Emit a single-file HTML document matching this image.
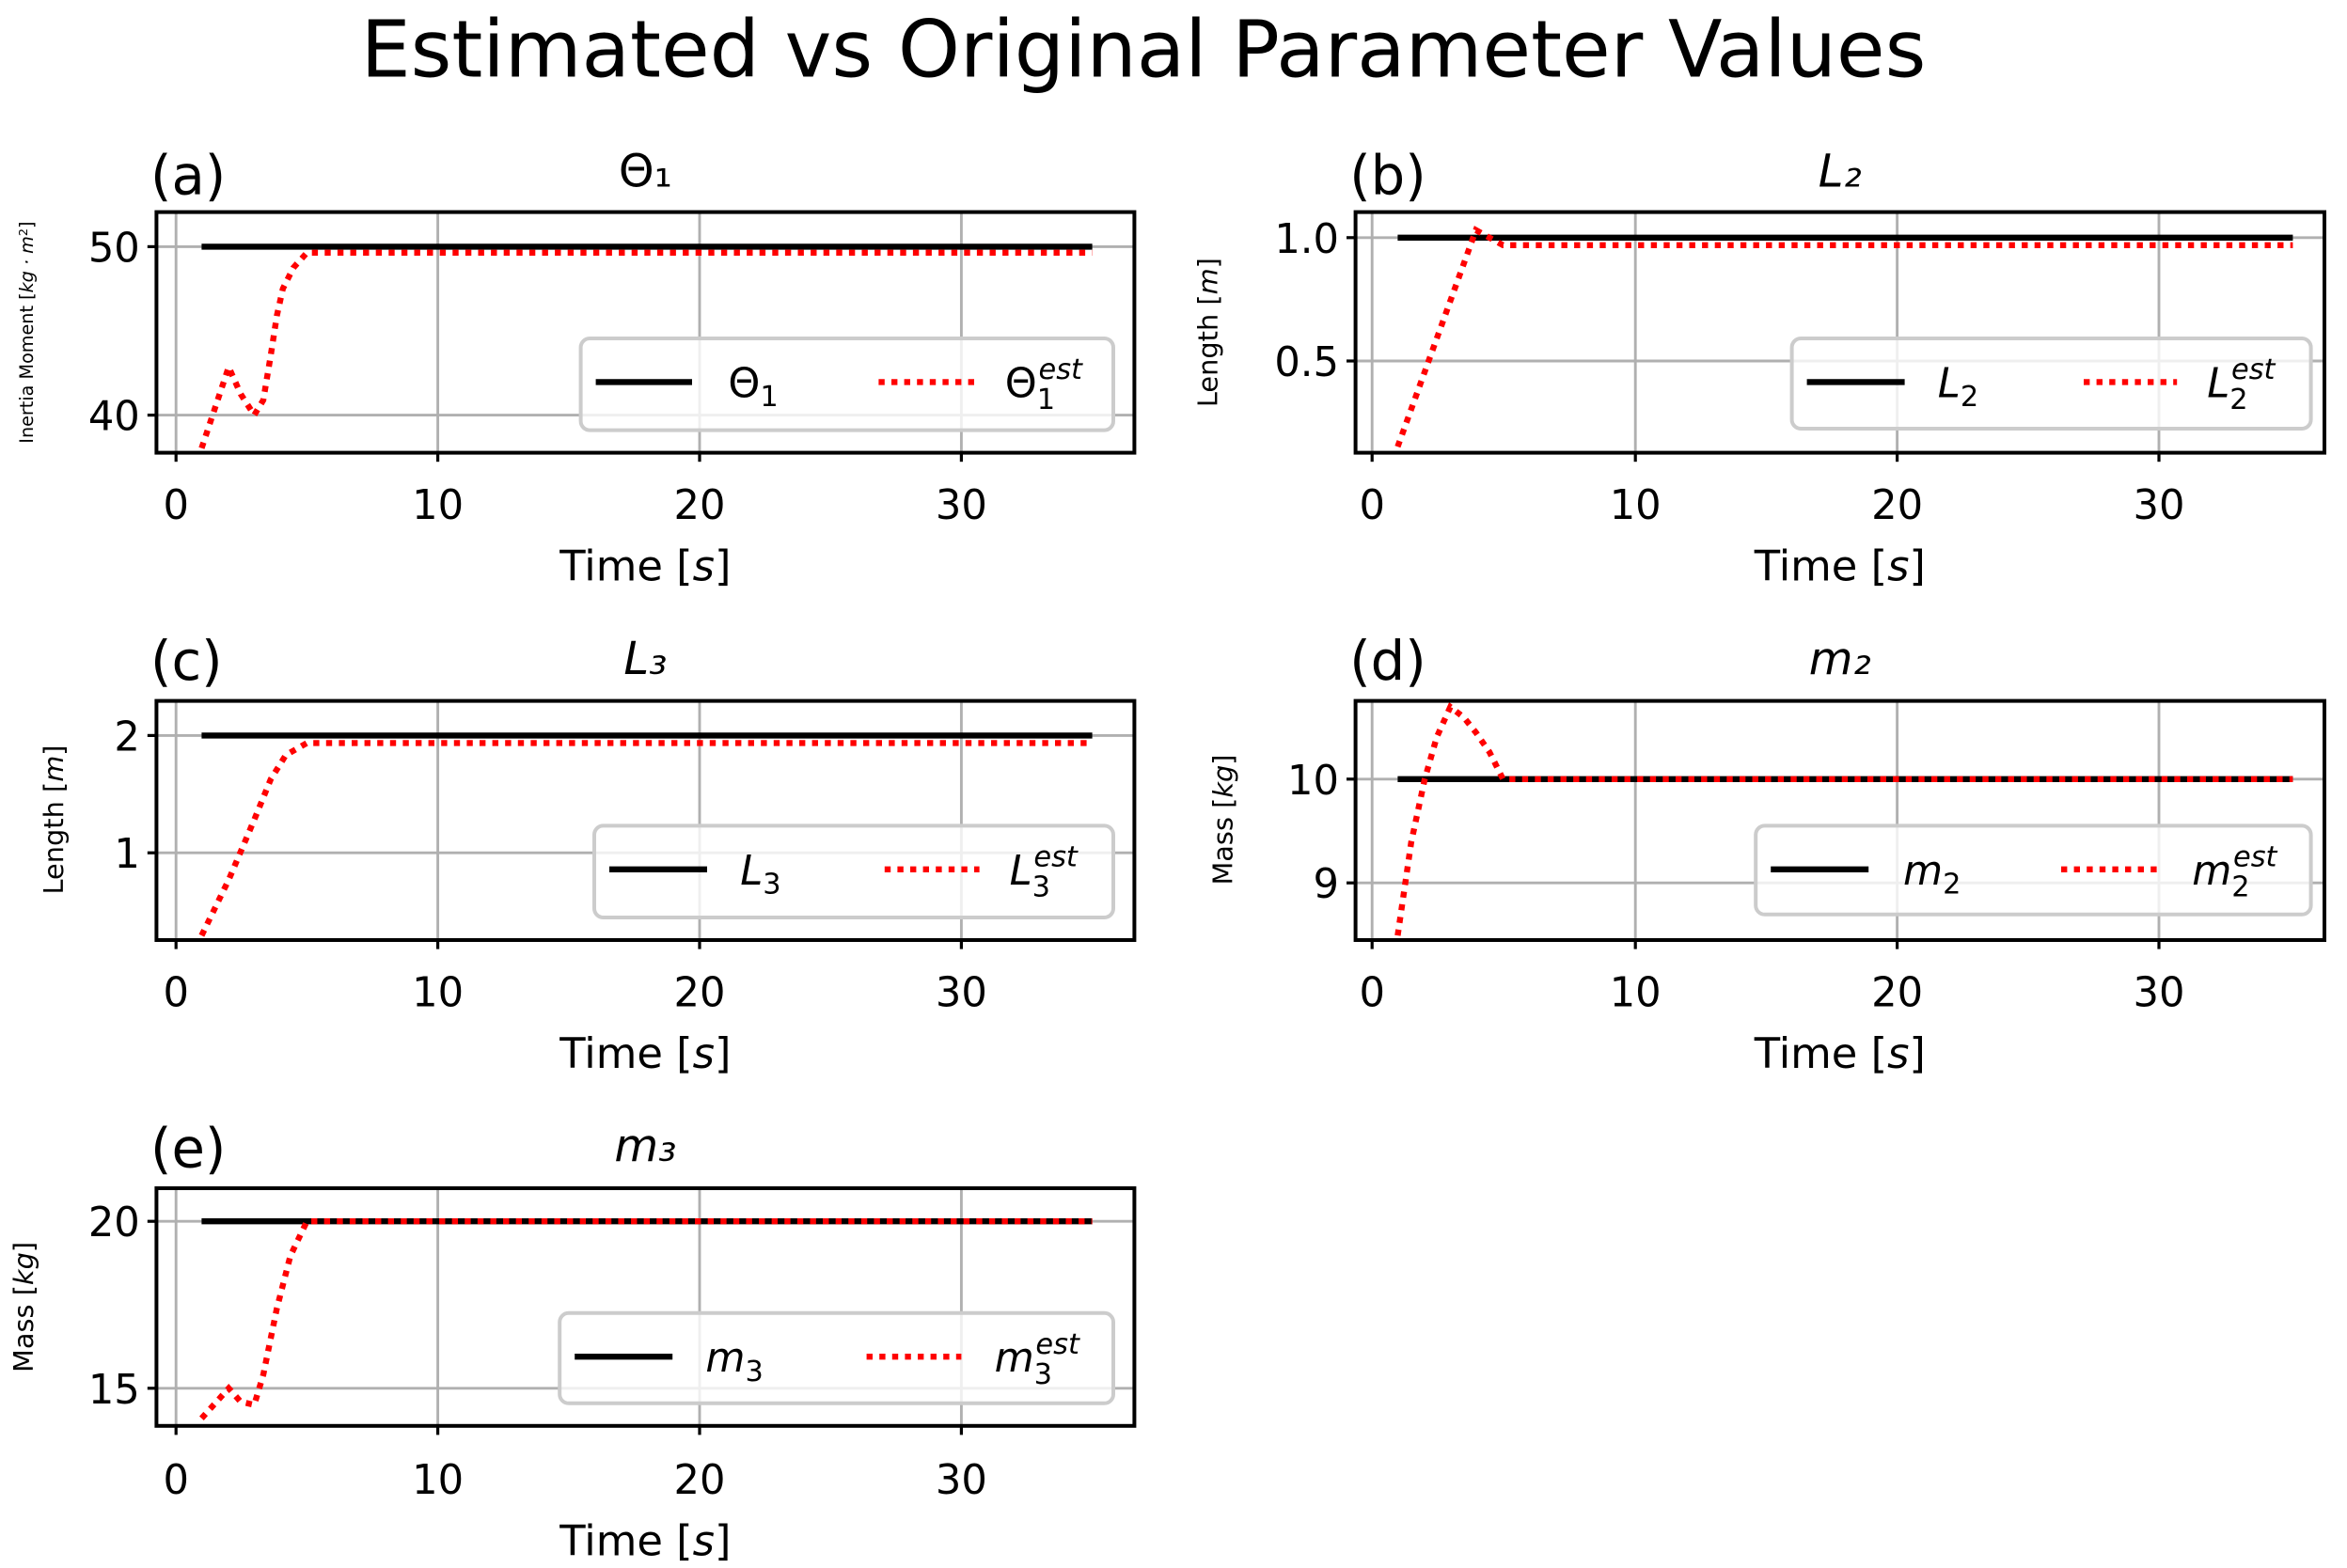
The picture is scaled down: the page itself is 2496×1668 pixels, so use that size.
<!DOCTYPE html>
<html><head><meta charset="utf-8"><style>
html,body{margin:0;padding:0;background:#fff;}
svg{display:block;}
text{font-family:"DejaVu Sans","Liberation Sans",sans-serif;fill:#000;}
.tk{font-size:27px;}
.ax{font-size:28px;}
.grid{stroke:#b0b0b0;stroke-width:1.8;}
.box{fill:none;stroke:#000;stroke-width:2.5;}
.blk{fill:none;stroke:#000;stroke-width:4;}
.red{fill:none;stroke:#ff0000;stroke-width:4;stroke-dasharray:4 4.5;}
.leg{fill:#fff;fill-opacity:0.8;stroke:#ccc;stroke-width:2.5;}
.it{font-style:italic;}
</style></head><body>
<svg width="2496" height="1668" viewBox="0 0 1560 1042.5" xmlns="http://www.w3.org/2000/svg">
<rect width="1560" height="1042.5" fill="#fff"/>
<text x="760" y="51" font-size="52.5" text-anchor="middle">Estimated vs Original Parameter Values</text>

<!-- Panel a -->
<g>
<line class="grid" x1="117" y1="141" x2="117" y2="301"/><line class="grid" x1="291" y1="141" x2="291" y2="301"/><line class="grid" x1="465" y1="141" x2="465" y2="301"/><line class="grid" x1="639" y1="141" x2="639" y2="301"/>
<line class="grid" x1="104" y1="164" x2="754" y2="164"/><line class="grid" x1="104" y1="276" x2="754" y2="276"/>
<line class="blk" x1="134" y1="164" x2="726" y2="164"/>
<polyline class="red" points="134,298 152,244 160,262 169,276 175,266 180,236 184,210 188,192 195,178 204,168 726,168"/>
<rect class="box" x="104" y="141" width="650" height="160"/>
<g stroke="#000" stroke-width="2"><line x1="117" y1="301" x2="117" y2="307"/><line x1="291" y1="301" x2="291" y2="307"/><line x1="465" y1="301" x2="465" y2="307"/><line x1="639" y1="301" x2="639" y2="307"/><line x1="98" y1="164" x2="104" y2="164"/><line x1="98" y1="276" x2="104" y2="276"/></g>
<text class="tk" x="117" y="345" text-anchor="middle">0</text><text class="tk" x="291" y="345" text-anchor="middle">10</text><text class="tk" x="465" y="345" text-anchor="middle">20</text><text class="tk" x="639" y="345" text-anchor="middle">30</text>
<text class="tk" x="93" y="174" text-anchor="end">50</text><text class="tk" x="93" y="286" text-anchor="end">40</text>
<text class="ax" x="429" y="386" text-anchor="middle">Time [<tspan class="it">s</tspan>]</text>
<text x="22" y="221" font-size="12" text-anchor="middle" transform="rotate(-90 22 221)">Inertia Moment [<tspan class="it">kg · m</tspan><tspan font-size="8" dy="-4">2</tspan><tspan dy="4">]</tspan></text>
<text x="100" y="129" font-size="36">(a)</text>
<text x="429" y="124" font-size="30" text-anchor="middle">Θ₁</text>
<rect class="leg" x="386" y="225" width="354" height="61" rx="6"/>
<line class="blk" x1="396" y1="254" x2="460" y2="254"/><text x="484" y="264" font-size="27">Θ<tspan font-size="19" dy="6">1</tspan></text>
<line class="red" x1="584" y1="254" x2="648" y2="254"/><text x="668" y="264" font-size="27">Θ<tspan font-size="19" dy="8">1</tspan><tspan font-size="19" class="it" dx="-11" dy="-20">est</tspan></text>
</g>

<!-- Panel b -->
<g>
<line class="grid" x1="912" y1="141" x2="912" y2="301"/><line class="grid" x1="1087" y1="141" x2="1087" y2="301"/><line class="grid" x1="1261" y1="141" x2="1261" y2="301"/><line class="grid" x1="1435" y1="141" x2="1435" y2="301"/>
<line class="grid" x1="901" y1="158" x2="1545" y2="158"/><line class="grid" x1="901" y1="240" x2="1545" y2="240"/>
<line class="blk" x1="929" y1="158" x2="1524" y2="158"/>
<polyline class="red" points="929,297 981,153 990,158 999,163 1524,163"/>
<rect class="box" x="901" y="141" width="644" height="160"/>
<g stroke="#000" stroke-width="2"><line x1="912" y1="301" x2="912" y2="307"/><line x1="1087" y1="301" x2="1087" y2="307"/><line x1="1261" y1="301" x2="1261" y2="307"/><line x1="1435" y1="301" x2="1435" y2="307"/><line x1="895" y1="158" x2="901" y2="158"/><line x1="895" y1="240" x2="901" y2="240"/></g>
<text class="tk" x="912" y="345" text-anchor="middle">0</text><text class="tk" x="1087" y="345" text-anchor="middle">10</text><text class="tk" x="1261" y="345" text-anchor="middle">20</text><text class="tk" x="1435" y="345" text-anchor="middle">30</text>
<text class="tk" x="890" y="168" text-anchor="end">1.0</text><text class="tk" x="890" y="250" text-anchor="end">0.5</text>
<text class="ax" x="1223" y="386" text-anchor="middle">Time [<tspan class="it">s</tspan>]</text>
<text x="809" y="221" font-size="18" text-anchor="middle" transform="rotate(-90 809 221)">Length [<tspan class="it">m</tspan>]</text>
<text x="897" y="129" font-size="36">(b)</text>
<text x="1223" y="124" font-size="30" text-anchor="middle" class="it">L₂</text>
<rect class="leg" x="1191" y="225" width="345" height="60" rx="6"/>
<line class="blk" x1="1201" y1="254" x2="1266" y2="254"/><text x="1288" y="264" font-size="27" class="it">L<tspan font-size="19" font-style="normal" dy="6">2</tspan></text>
<line class="red" x1="1385" y1="254" x2="1447" y2="254"/><text x="1467" y="264" font-size="27" class="it">L<tspan font-size="19" font-style="normal" dy="8">2</tspan><tspan font-size="19" dx="-11" dy="-20">est</tspan></text>
</g>

<!-- Panel c -->
<g>
<line class="grid" x1="117" y1="466" x2="117" y2="625"/><line class="grid" x1="291" y1="466" x2="291" y2="625"/><line class="grid" x1="465" y1="466" x2="465" y2="625"/><line class="grid" x1="639" y1="466" x2="639" y2="625"/>
<line class="grid" x1="104" y1="489" x2="754" y2="489"/><line class="grid" x1="104" y1="567" x2="754" y2="567"/>
<line class="blk" x1="134" y1="489" x2="726" y2="489"/>
<polyline class="red" points="134,622 152,585 169,545 180,518 190,502 204,494 726,494"/>
<rect class="box" x="104" y="466" width="650" height="159"/>
<g stroke="#000" stroke-width="2"><line x1="117" y1="625" x2="117" y2="631"/><line x1="291" y1="625" x2="291" y2="631"/><line x1="465" y1="625" x2="465" y2="631"/><line x1="639" y1="625" x2="639" y2="631"/><line x1="98" y1="489" x2="104" y2="489"/><line x1="98" y1="567" x2="104" y2="567"/></g>
<text class="tk" x="117" y="669" text-anchor="middle">0</text><text class="tk" x="291" y="669" text-anchor="middle">10</text><text class="tk" x="465" y="669" text-anchor="middle">20</text><text class="tk" x="639" y="669" text-anchor="middle">30</text>
<text class="tk" x="93" y="499" text-anchor="end">2</text><text class="tk" x="93" y="577" text-anchor="end">1</text>
<text class="ax" x="429" y="710" text-anchor="middle">Time [<tspan class="it">s</tspan>]</text>
<text x="42" y="545" font-size="18" text-anchor="middle" transform="rotate(-90 42 545)">Length [<tspan class="it">m</tspan>]</text>
<text x="100" y="452" font-size="36">(c)</text>
<text x="429" y="448" font-size="30" text-anchor="middle" class="it">L₃</text>
<rect class="leg" x="395" y="549" width="345" height="61" rx="6"/>
<line class="blk" x1="405" y1="578" x2="470" y2="578"/><text x="492" y="588" font-size="27" class="it">L<tspan font-size="19" font-style="normal" dy="6">3</tspan></text>
<line class="red" x1="588" y1="578" x2="651" y2="578"/><text x="671" y="588" font-size="27" class="it">L<tspan font-size="19" font-style="normal" dy="8">3</tspan><tspan font-size="19" dx="-11" dy="-20">est</tspan></text>
</g>

<!-- Panel d -->
<g>
<line class="grid" x1="912" y1="466" x2="912" y2="625"/><line class="grid" x1="1087" y1="466" x2="1087" y2="625"/><line class="grid" x1="1261" y1="466" x2="1261" y2="625"/><line class="grid" x1="1435" y1="466" x2="1435" y2="625"/>
<line class="grid" x1="901" y1="518" x2="1545" y2="518"/><line class="grid" x1="901" y1="587" x2="1545" y2="587"/>
<line class="blk" x1="929" y1="518" x2="1524" y2="518"/>
<polyline class="red" points="929,622 938,560 947,518 955,490 964,470 973,477 981,487 990,500 999,518 1524,518"/>
<rect class="box" x="901" y="466" width="644" height="159"/>
<g stroke="#000" stroke-width="2"><line x1="912" y1="625" x2="912" y2="631"/><line x1="1087" y1="625" x2="1087" y2="631"/><line x1="1261" y1="625" x2="1261" y2="631"/><line x1="1435" y1="625" x2="1435" y2="631"/><line x1="895" y1="518" x2="901" y2="518"/><line x1="895" y1="587" x2="901" y2="587"/></g>
<text class="tk" x="912" y="669" text-anchor="middle">0</text><text class="tk" x="1087" y="669" text-anchor="middle">10</text><text class="tk" x="1261" y="669" text-anchor="middle">20</text><text class="tk" x="1435" y="669" text-anchor="middle">30</text>
<text class="tk" x="890" y="528" text-anchor="end">10</text><text class="tk" x="890" y="597" text-anchor="end">9</text>
<text class="ax" x="1223" y="710" text-anchor="middle">Time [<tspan class="it">s</tspan>]</text>
<text x="819" y="545" font-size="18" text-anchor="middle" transform="rotate(-90 819 545)">Mass [<tspan class="it">kg</tspan>]</text>
<text x="897" y="452" font-size="36">(d)</text>
<text x="1223" y="448" font-size="30" text-anchor="middle" class="it">m₂</text>
<rect class="leg" x="1167" y="549" width="369" height="59" rx="6"/>
<line class="blk" x1="1177" y1="578" x2="1242" y2="578"/><text x="1265" y="588" font-size="27" class="it">m<tspan font-size="19" font-style="normal" dy="6">2</tspan></text>
<line class="red" x1="1370" y1="578" x2="1434" y2="578"/><text x="1457" y="588" font-size="27" class="it">m<tspan font-size="19" font-style="normal" dy="8">2</tspan><tspan font-size="19" dx="-11" dy="-20">est</tspan></text>
</g>

<!-- Panel e -->
<g>
<line class="grid" x1="117" y1="790" x2="117" y2="948"/><line class="grid" x1="291" y1="790" x2="291" y2="948"/><line class="grid" x1="465" y1="790" x2="465" y2="948"/><line class="grid" x1="639" y1="790" x2="639" y2="948"/>
<line class="grid" x1="104" y1="812" x2="754" y2="812"/><line class="grid" x1="104" y1="923" x2="754" y2="923"/>
<line class="blk" x1="134" y1="812" x2="726" y2="812"/>
<polyline class="red" points="134,943 152,923 160,932 169,934 175,914 184,870 193,835 204,812 726,812"/>
<rect class="box" x="104" y="790" width="650" height="158"/>
<g stroke="#000" stroke-width="2"><line x1="117" y1="948" x2="117" y2="954"/><line x1="291" y1="948" x2="291" y2="954"/><line x1="465" y1="948" x2="465" y2="954"/><line x1="639" y1="948" x2="639" y2="954"/><line x1="98" y1="812" x2="104" y2="812"/><line x1="98" y1="923" x2="104" y2="923"/></g>
<text class="tk" x="117" y="993" text-anchor="middle">0</text><text class="tk" x="291" y="993" text-anchor="middle">10</text><text class="tk" x="465" y="993" text-anchor="middle">20</text><text class="tk" x="639" y="993" text-anchor="middle">30</text>
<text class="tk" x="93" y="822" text-anchor="end">20</text><text class="tk" x="93" y="933" text-anchor="end">15</text>
<text class="ax" x="429" y="1034" text-anchor="middle">Time [<tspan class="it">s</tspan>]</text>
<text x="22" y="869" font-size="18" text-anchor="middle" transform="rotate(-90 22 869)">Mass [<tspan class="it">kg</tspan>]</text>
<text x="100" y="776" font-size="36">(e)</text>
<text x="429" y="772" font-size="30" text-anchor="middle" class="it">m₃</text>
<rect class="leg" x="372" y="873" width="368" height="60" rx="6"/>
<line class="blk" x1="382" y1="902" x2="447" y2="902"/><text x="469" y="912" font-size="27" class="it">m<tspan font-size="19" font-style="normal" dy="6">3</tspan></text>
<line class="red" x1="576" y1="902" x2="639" y2="902"/><text x="661" y="912" font-size="27" class="it">m<tspan font-size="19" font-style="normal" dy="8">3</tspan><tspan font-size="19" dx="-11" dy="-20">est</tspan></text>
</g>
</svg>
</body></html>
